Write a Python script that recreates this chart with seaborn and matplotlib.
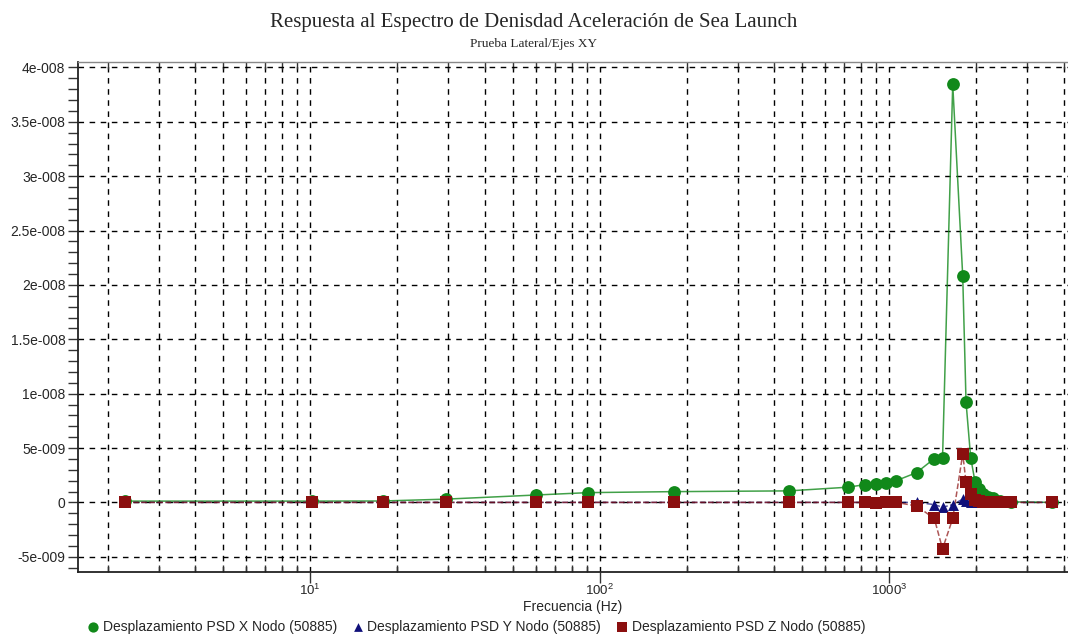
import matplotlib

matplotlib.use("Agg")
import matplotlib.pyplot as plt
import matplotlib.ticker as mticker
import pandas as pd
import seaborn as sns

# frequencies (Hz)
FREQ_HZ = [2.29, 10.1, 17.8, 29.4, 60.2, 91.3, 180, 450, 721, 821, 899, 974, 1057,
           1242, 1430, 1527, 1656, 1793, 1841, 1910, 1977, 2041, 2112, 2198, 2287,
           2412, 2626, 3639]

# displacement PSD values, in units of 1e-9
PSD_X = [0.12, 0.12, 0.13, 0.3, 0.68, 0.9, 0.99, 1.06, 1.4, 1.63, 1.72, 1.82, 2.0,
         2.74, 4.03, 4.06, 38.44, 20.8, 9.2, 4.12, 1.9, 1.2, 0.74, 0.5, 0.37,
         0.15, 0.05, 0.0]
PSD_Y = [0.0, 0.0, 0.0, 0.0, 0.0, 0.0, 0.0, 0.0, 0.0, 0.0, 0.0, 0.0, 0.0,
         0.0, -0.2, -0.45, -0.2, 0.3, 0.15, 0.05, 0.02, 0.0, 0.0, 0.0, 0.0,
         0.0, 0.0, 0.0]
PSD_Z = [0.0, 0.0, 0.0, 0.0, 0.0, 0.0, 0.0, 0.0, 0.0, 0.0, -0.05, 0.0, 0.0,
         -0.33, -1.48, -4.27, -1.48, 4.46, 1.85, 0.74, 0.25, 0.1, 0.03, 0.0, 0.0,
         0.0, 0.0, 0.0]
UNIT = 1e-9

SERIES = [
    ("Desplazamiento PSD X Nodo (50885)", PSD_X, "#11891a", "o", "-"),
    ("Desplazamiento PSD Y Nodo (50885)", PSD_Y, "#10107a", "^", "--"),
    ("Desplazamiento PSD Z Nodo (50885)", PSD_Z, "#8b0f0f", "s", "--"),
]

Y_TICKS = [-5e-9, 0, 5e-9, 1e-8, 1.5e-8, 2e-8, 2.5e-8, 3e-8, 3.5e-8, 4e-8]
Y_TICK_LABELS = ["-5e-009", "0", "5e-009", "1e-008", "1.5e-008", "2e-008",
                 "2.5e-008", "3e-008", "3.5e-008", "4e-008"]
X_TICKS = [10, 100, 1000]
X_TICK_LABELS = [r"10$^{\mathregular{1}}$", r"100$^{\mathregular{2}}$", r"1000$^{\mathregular{3}}$"]

SANS = ["Liberation Sans", "DejaVu Sans"]
SERIF = ["Liberation Serif", "DejaVu Serif"]

sns.set_style("white")
plt.rcParams["font.family"] = SANS
plt.rcParams["mathtext.fontset"] = "custom"
plt.rcParams["mathtext.rm"] = "Liberation Sans"

W, H = 1068, 637
fig = plt.figure(figsize=(W / 100, H / 100), dpi=100)
ax = fig.add_axes([78 / W, (H - 572) / H, (W - 78) / W, (572 - 62) / H])

df = pd.DataFrame({"freq": FREQ_HZ})
for name, values, color, marker, ls in SERIES:
    df[name] = [v * UNIT for v in values]
    sns.lineplot(data=df, x="freq", y=name, ax=ax, color=color, lw=1.1,
                 linestyle=ls, alpha=0.8 if ls == "-" else 0.7, legend=False)
for name, values, color, marker, ls in SERIES:
    size = 62 if marker == "^" else 85
    sns.scatterplot(data=df, x="freq", y=name, ax=ax, color=color, marker=marker,
                    s=size, linewidth=0, label=name, zorder=5)

ax.set_xscale("log")
ax.set_xlim(1.576, 4142)
ax.set_ylim(-6.4e-9, 4.05e-8)

ax.set_xticks(X_TICKS)
ax.set_xticklabels(X_TICK_LABELS, fontsize=9.5)
ax.xaxis.set_minor_locator(mticker.LogLocator(base=10, subs=range(2, 10), numticks=20))
ax.xaxis.set_minor_formatter(mticker.NullFormatter())
ax.set_yticks(Y_TICKS)
ax.set_yticklabels(Y_TICK_LABELS, fontsize=10)
ax.yaxis.set_minor_locator(mticker.MultipleLocator(1e-9))

ax.tick_params(axis="x", which="major", direction="out", length=8, width=1,
               color="#333333", pad=0, bottom=True, top=False)
ax.tick_params(axis="x", which="minor", direction="in", length=5, width=1,
               color="#333333", bottom=True, top=True)
ax.tick_params(axis="y", which="both", direction="out", length=7, width=1,
               color="#333333", left=True, pad=2)

ax.grid(which="major", axis="both", color="black", lw=1.0, ls=(0, (4, 4)))
ax.grid(which="minor", axis="x", color="black", lw=1.0, ls=(0, (4, 4)))
ax.set_axisbelow(True)

for side in ["left", "bottom"]:
    ax.spines[side].set_color("#222222")
    ax.spines[side].set_linewidth(1.3)
ax.spines["top"].set_color("#888888")
ax.spines["top"].set_linewidth(1.0)
ax.spines["right"].set_visible(False)

ax.set_xlabel("Frecuencia (Hz)", fontsize=10, labelpad=1)
ax.set_ylabel("")

fig.text(0.5, 1 - 22 / H, "Respuesta al Espectro de Denisdad Aceleración de Sea Launch",
         ha="center", va="center", fontsize=15, family=SERIF)
fig.text(0.5, 1 - 44 / H, "Prueba Lateral/Ejes XY",
         ha="center", va="center", fontsize=9.5, family=SERIF)

ax.get_legend().remove()
leg_handles, leg_labels = ax.get_legend_handles_labels()
fig.legend(leg_handles, leg_labels, loc="center left", ncol=3,
           bbox_to_anchor=(86 / W, 1 - 627 / H), frameon=False, fontsize=10,
           handletextpad=0.2, columnspacing=1.0, handlelength=1.0,
           markerscale=0.8, borderaxespad=0, borderpad=0)

fig.savefig("out.png", dpi=100)
